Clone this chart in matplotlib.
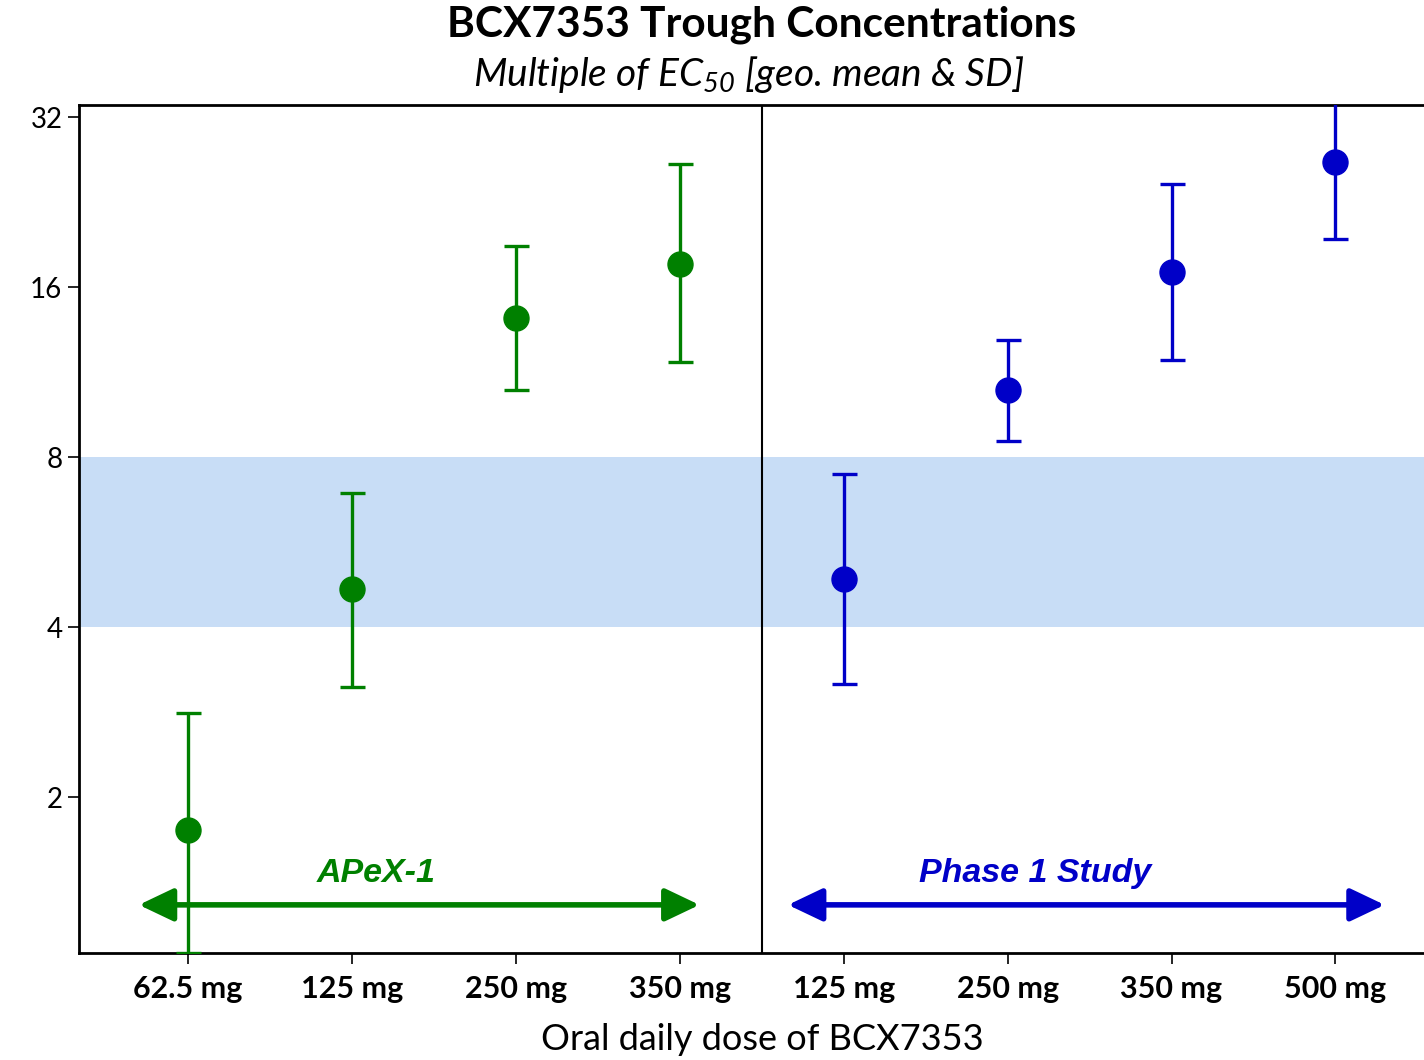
import numpy as np
import matplotlib
matplotlib.use("Agg")
import matplotlib.pyplot as plt
from matplotlib.ticker import FixedLocator, NullLocator

# dose groups (two studies side by side)
apex_doses = ["62.5 mg", "125 mg", "250 mg", "350 mg"]
apex_mean = [1.75, 4.67, 14.1, 17.6]
apex_low = [1.06, 3.14, 10.5, 11.8]
apex_high = [2.82, 6.91, 18.9, 26.4]

ph1_doses = ["125 mg", "250 mg", "350 mg", "500 mg"]
ph1_mean = [4.86, 10.5, 17.0, 26.6]
ph1_low = [3.17, 8.54, 11.9, 19.5]
ph1_high = [7.46, 12.9, 24.4, 40.0]

yticks = [2, 4, 8, 16, 32]
band = (4, 8)

green = "#008000"
blue = "#0000c8"

plt.rcParams["mathtext.fontset"] = "custom"
plt.rcParams["mathtext.it"] = "Lato:italic"
plt.rcParams["mathtext.rm"] = "Lato:italic"

fig = plt.figure(figsize=(14.24, 10.60), dpi=100)
ax = fig.add_axes([0.0555, 0.1009, 0.9445, 0.8000])

x_apex = np.arange(len(apex_doses))
x_ph1 = np.arange(len(ph1_doses)) + len(apex_doses)

ax.axhspan(band[0], band[1], color="#c8ddf6", zorder=0, lw=0)
ax.axvline(len(apex_doses) - 0.5, color="black", lw=1.5, zorder=1)

for xs, m, lo, hi, c in [(x_apex, apex_mean, apex_low, apex_high, green),
                         (x_ph1, ph1_mean, ph1_low, ph1_high, blue)]:
    m = np.array(m)
    err = [m - np.array(lo), np.array(hi) - m]
    ax.errorbar(xs, m, yerr=err, fmt="o", color=c, ms=18, elinewidth=2.4,
                capsize=9, capthick=2.4, zorder=3)

ax.set_yscale("log", base=2)
ax.set_ylim(1.06, 33.6)
ax.set_xlim(-0.665, 7.54)
ax.yaxis.set_major_locator(FixedLocator(yticks))
ax.yaxis.set_minor_locator(NullLocator())
ax.set_yticklabels([str(t) for t in yticks], fontsize=20, family="Lato")

ax.set_xticks(list(x_apex) + list(x_ph1))
ax.set_xticklabels(apex_doses + ph1_doses, fontsize=22, fontweight="bold", family="Lato")
ax.tick_params(axis="both", direction="out", length=8, width=1.2)
ax.tick_params(axis="x", pad=8)
ax.tick_params(axis="y", pad=4)

ax.spines["right"].set_visible(False)
for s in ["left", "bottom", "top"]:
    ax.spines[s].set_linewidth(2)

ax.set_xlabel("Oral daily dose of BCX7353", fontsize=26, family="Lato")
ax.xaxis.set_label_coords(0.508, -0.082)

# study range arrows
arrow_y = 1.29
for x0, x1, xl, c, label in [
        (x_apex[0] - 0.30, x_apex[-1] + 0.12, x_apex.mean() - 0.35, green, "APeX-1"),
        (x_ph1[0] - 0.34, x_ph1[-1] + 0.30, x_ph1.mean() - 0.33, blue, "Phase 1 Study")]:
    ax.annotate("", xy=(x1, arrow_y), xytext=(x0, arrow_y),
                arrowprops=dict(arrowstyle="<|-|>,head_length=1.05,head_width=0.5",
                                mutation_scale=20, color=c, lw=4,
                                shrinkA=0, shrinkB=0), zorder=4)
    ax.text(xl, arrow_y * 1.135, label, color=c, fontsize=24.5,
            fontweight="bold", fontstyle="italic", family="Liberation Sans",
            ha="center", va="center")

fig.text(0.535, 0.977, "BCX7353 Trough Concentrations", ha="center", va="center",
         fontsize=30.5, fontweight="bold", family="Lato")
fig.text(0.526, 0.930, r"Multiple of EC$_{50}$ [geo. mean & SD]", ha="center",
         va="center", fontsize=28, fontstyle="italic", family="Lato")

fig.savefig("out.png", dpi=100)
